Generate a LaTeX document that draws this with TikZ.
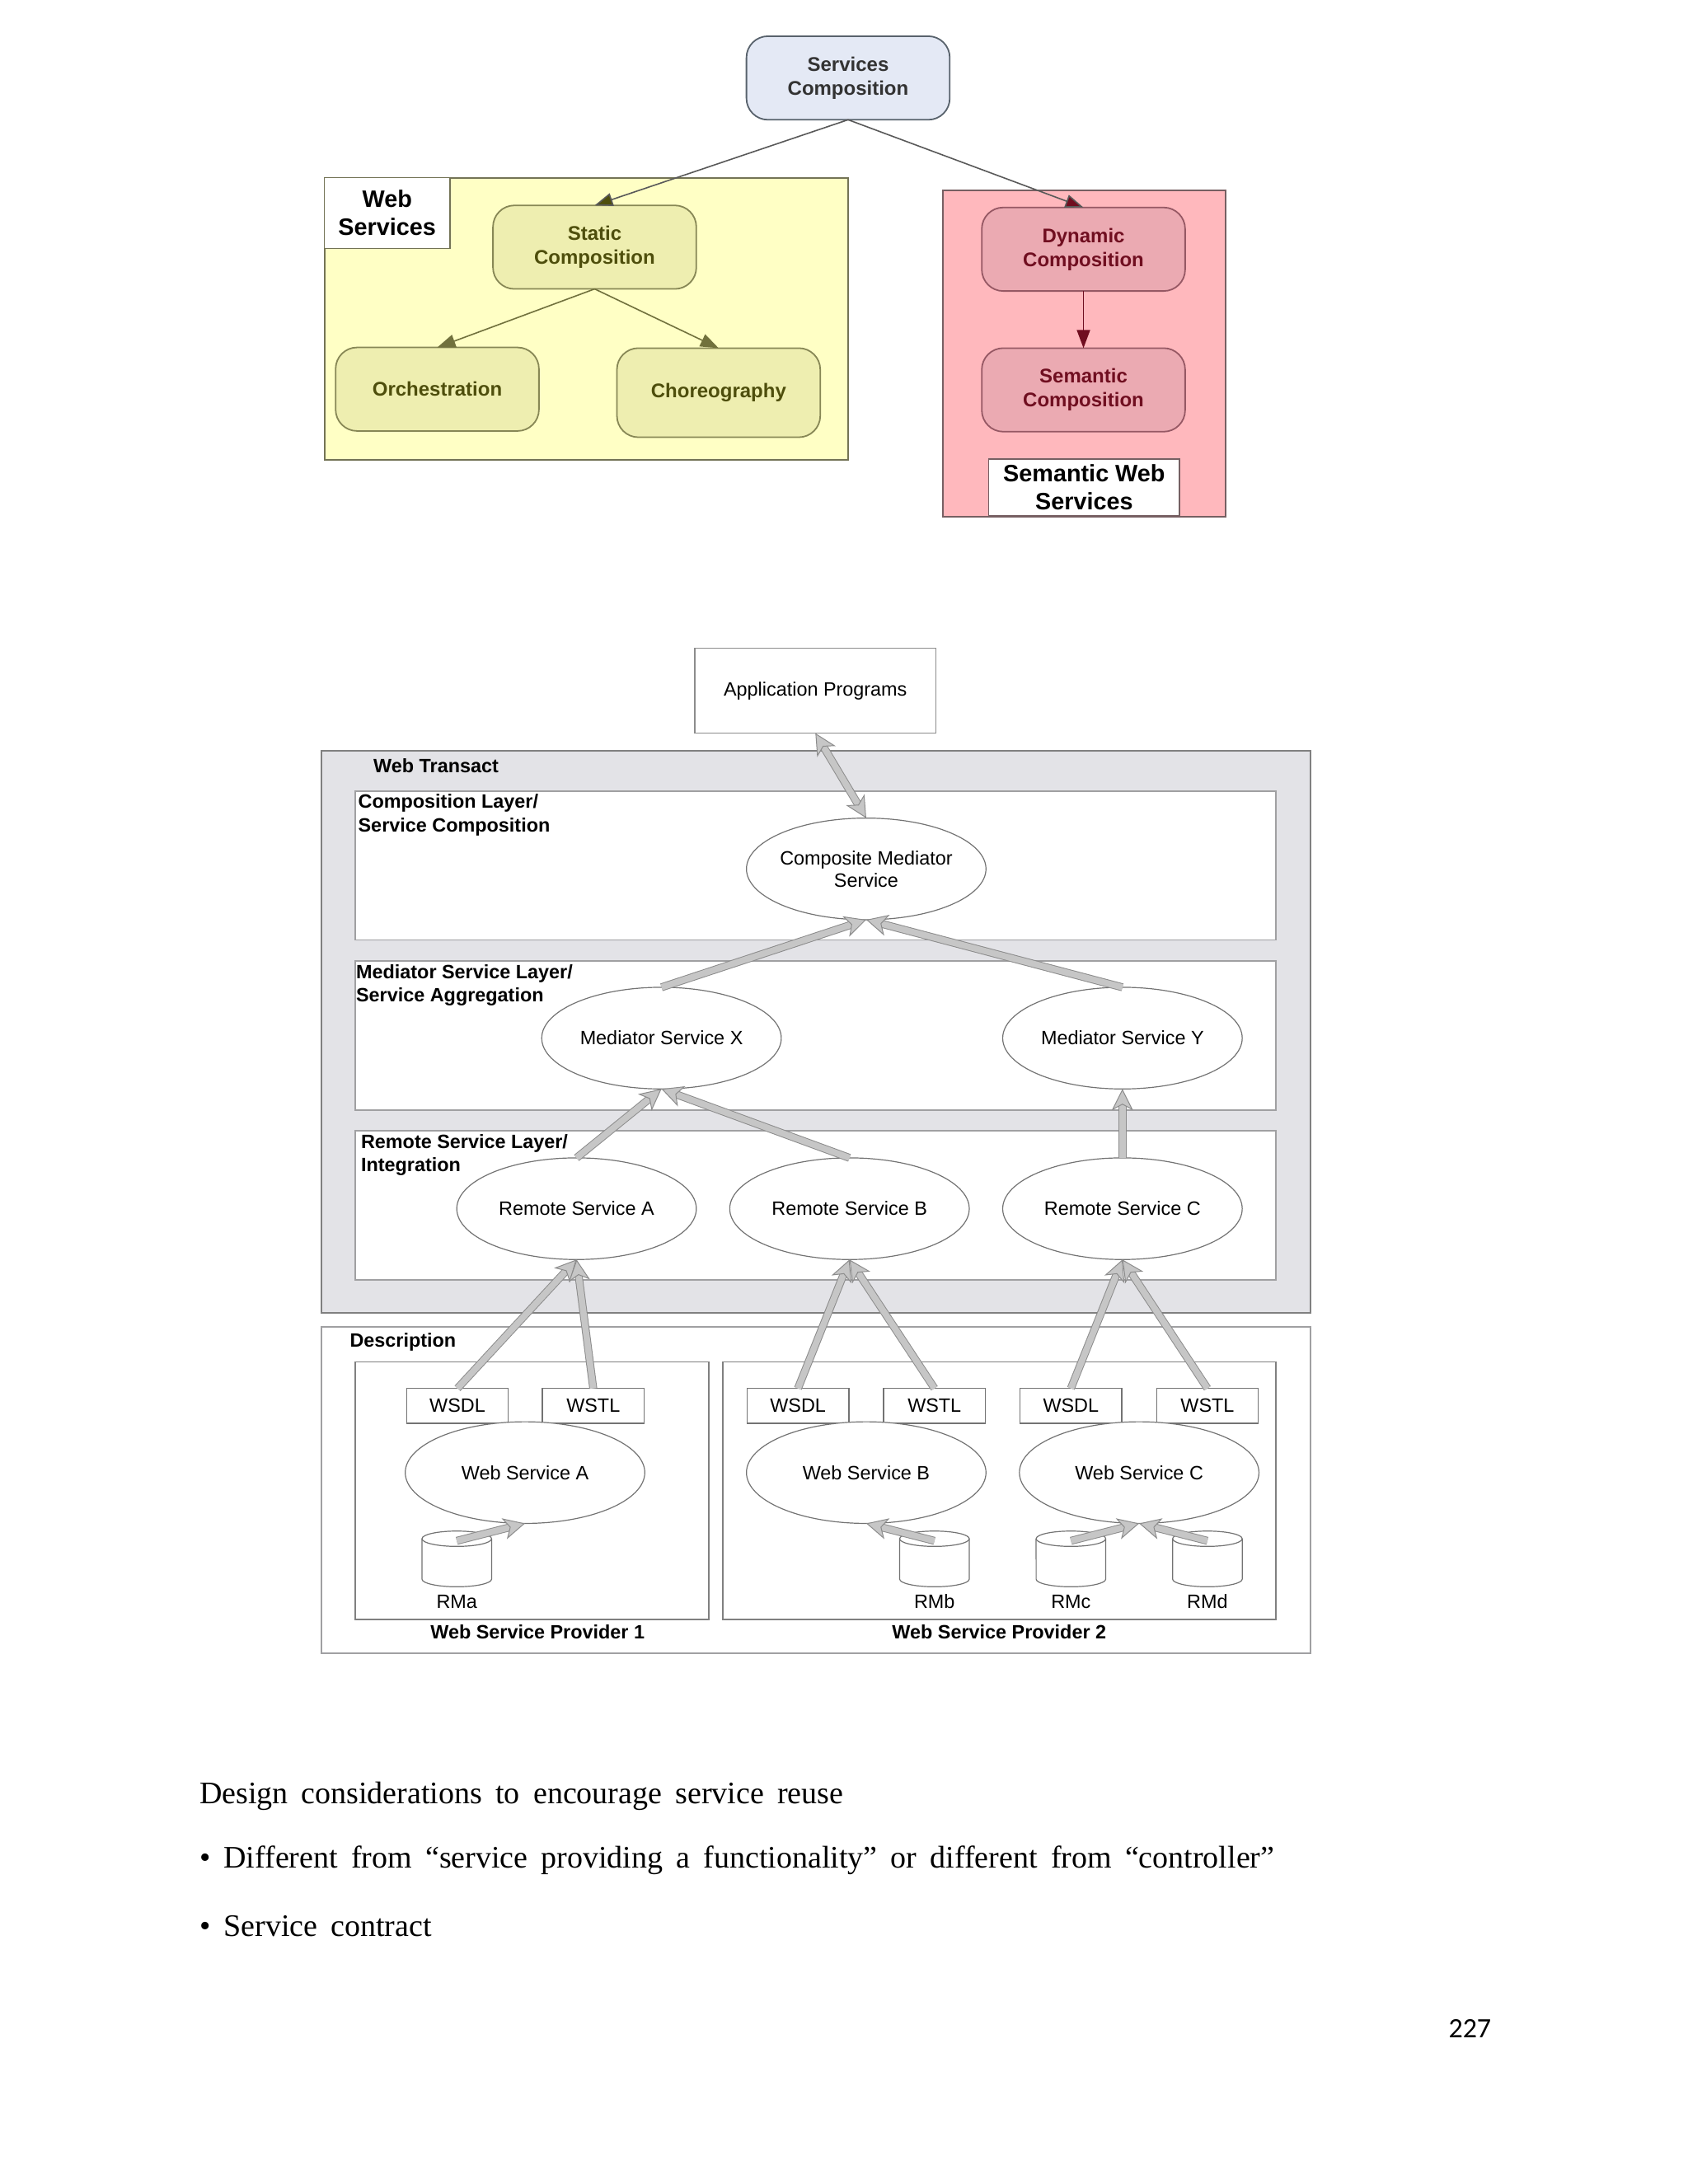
\documentclass[tikz,border=0pt]{standalone}
\usepackage{fontspec}
\setmainfont{Liberation Sans}
\newfontfamily\bodyfont[WordSpace=1.7]{Liberation Serif}
\newfontfamily\pagefont{Carlito}
\usetikzlibrary{
  arrows.meta,
  calc,
  shapes.geometric,
}
\definecolor{topfill}{RGB}{228, 233, 245}
\definecolor{topedge}{RGB}{88, 98, 108}
\definecolor{webpanel}{RGB}{255, 255, 197}
\definecolor{webfill}{RGB}{238, 238, 176}
\definecolor{webedge}{RGB}{135, 135, 85}
\definecolor{webtext}{RGB}{78, 78, 12}
\definecolor{sempanel}{RGB}{255, 184, 189}
\definecolor{semfill}{RGB}{235, 170, 178}
\definecolor{semedge}{RGB}{150, 88, 100}
\definecolor{semtext}{RGB}{112, 14, 32}
\definecolor{panelwebedge}{RGB}{115, 115, 85}
\definecolor{panelsemedge}{RGB}{118, 95, 98}
\definecolor{transact}{RGB}{227, 227, 231}
\definecolor{lineedge}{RGB}{160, 160, 162}
\definecolor{flowfill}{RGB}{198, 198, 198}
\definecolor{flowedge}{RGB}{140, 140, 140}
\tikzstyle{thinarrow} = [
  -{Triangle[length=11pt, width=8pt]},
  line width=0.8pt,
]
\tikzstyle{flow} = [
  -{Stealth[length=13pt, width=13pt, inset=3.5pt, fill=flowfill]},
  draw=flowedge,
  line width=0.5pt,
  double=flowfill,
  double distance=3.8pt,
]
\tikzstyle{flowboth} = [
  flow,
  {Stealth[length=13pt, width=13pt, inset=3.5pt, fill=flowfill]}-{Stealth[length=13pt, width=13pt, inset=3.5pt, fill=flowfill]},
]
\newcommand{\drumlines}[1]{
  \draw [draw=black!55, fill=white, line width=0.6pt]
        ($(#1.north west)+(0,5.5)$)
        arc [start angle=180, end angle=0, x radius=21.12pt, y radius=4.65pt]
        -- ($(#1.south east)+(0,-5.5)$)
        arc [start angle=0, end angle=-180, x radius=21.12pt, y radius=4.65pt]
        -- cycle;
  \draw [draw=black!55, line width=0.6pt]
        ($(#1.north west)+(0,5.5)$)
        arc [start angle=180, end angle=360, x radius=21.12pt, y radius=4.65pt];
}

\begin{document}
\begin{tikzpicture}[x=0.8449pt, y=-0.8449pt,
    wh/.style 2 args={minimum width=#1*0.8449pt, minimum height=#2*0.8449pt,
                      inner sep=0pt, outer sep=0pt},
    panel/.style={draw=#1, line width=1pt},
    round/.style={rounded corners=13pt, line width=0.9pt, align=center,
                  font=\fontsize{12}{14.4}\selectfont\bfseries, wh={146}{60}},
    tag/.style={draw, fill=white, align=center, line width=0.8pt,
                font=\fontsize{14.4}{17}\selectfont\bfseries},
    layer/.style={draw=lineedge, fill=white, line width=0.9pt},
    oval/.style={ellipse, draw=black!55, fill=white, line width=0.6pt, align=center,
                 wh={172}{73}, font=\fontsize{11.7}{13.6}\selectfont},
    leaf/.style={draw=black!55, fill=white, line width=0.7pt, wh={73}{25},
                 font=\fontsize{11.7}{14}\selectfont},
    drum/.style={wh={50}{40}},
    small/.style={font=\fontsize{11.7}{14}\selectfont},
    head/.style={anchor=west, align=left, inner sep=0pt,
                 font=\fontsize{11.7}{14.4}\selectfont\bfseries},
    body/.style={anchor=west, inner sep=0pt, font=\fontsize{19}{23}\selectfont\bodyfont}]
  \useasboundingbox (0,0) rectangle (1212,1568.4);

  \node [panel=panelwebedge, fill=webpanel, wh={376}{202}] (webpanel) at (421,229) {};
  \node [panel=panelsemedge, fill=sempanel, wh={203}{234}] (sempanel) at (778.5,254) {};
  \node [tag, draw=panelwebedge, wh={90}{51}] (webtag) at (278,153) {Web\\Services};
  \node [tag, draw=panelsemedge, wh={137}{41}] (semtag) at (778.5,350) {Semantic Web\\Services};

  \node [round, draw=topedge, fill=topfill, text=black!80] (services) at (609,56)
        {Services\\Composition};
  \node [round, draw=webedge, fill=webfill, text=webtext] (static) at (427,177.5)
        {Static\\Composition};
  \node [round, draw=webedge, fill=webfill, text=webtext] (orch) at (314,279.5) {Orchestration};
  \node [round, draw=webedge, fill=webfill, text=webtext, wh={146}{64}] (chor) at (516,282)
        {Choreography};
  \node [round, draw=semedge, fill=semfill, text=semtext] (dynamic) at (778,179)
        {Dynamic\\Composition};
  \node [round, draw=semedge, fill=semfill, text=semtext] (semantic) at (778,280)
        {Semantic\\Composition};

  \draw [thinarrow, draw=black!65, -{Triangle[length=11pt, width=8pt, fill=webtext]}]
        (services.south) -- (static.north);
  \draw [thinarrow, draw=black!65, -{Triangle[length=11pt, width=8pt, fill=semtext]}]
        (services.south) -- (dynamic.north);
  \draw [thinarrow, draw=webtext!80] (static.south) -- (orch.north);
  \draw [thinarrow, draw=webtext!80] (static.south) -- (chor.north);
  \draw [thinarrow, draw=semtext] (dynamic.south) -- (semantic.north);

  \node [draw=black!45, line width=0.8pt, wh={173}{61}, small] (app) at (585.5,496)
        {Application Programs};
  \node [draw=black!50, fill=transact, line width=0.9pt, wh={710}{404}] (webtransact) at (586,741) {};
  \node [head] (webtitle) at (268,550) {Web Transact};
  \node [layer, wh={661}{107}] (complayer) at (585.5,621.5) {};
  \node [layer, wh={661}{107}] (medlayer) at (585.5,743.5) {};
  \node [layer, wh={661}{107}] (remlayer) at (585.5,865.5) {};
  \node [head] (comptitle) at (257,585.5) {Composition Layer/\\Service Composition};
  \node [head] (medtitle) at (255.5,707.5) {Mediator Service Layer/\\Service Aggregation};
  \node [head] (remtitle) at (259,829.5) {Remote Service Layer/\\Integration};

  \node [oval, inner sep=-8pt] (composite) at (622,624) {Composite Mediator\\Service};
  \node [oval] (medx) at (475,745.5) {Mediator Service X};
  \node [oval] (medy) at (806,745.5) {Mediator Service Y};
  \node [oval] (rema) at (414,868) {Remote Service A};
  \node [oval] (remb) at (610,868) {Remote Service B};
  \node [oval] (remc) at (806,868) {Remote Service C};

  \node [draw=lineedge, fill=white, line width=0.9pt, wh={710}{234}] (description) at (586,1070) {};
  \node [head] (desctitle) at (251,964) {Description};
  \node [layer, draw=black!50, wh={254}{185}] (provone) at (382,1070.5) {};
  \node [layer, draw=black!50, wh={397}{185}] (provtwo) at (717.5,1070.5) {};
  \node [head, anchor=center] (provonetitle) at (386,1172) {Web Service Provider 1};
  \node [head, anchor=center] (provtwotitle) at (717.5,1172) {Web Service Provider 2};

  \node [leaf] (wsdla) at (328.5,1009.5) {WSDL};
  \node [leaf] (wstla) at (426,1009.5) {WSTL};
  \node [leaf] (wsdlb) at (573,1009.5) {WSDL};
  \node [leaf] (wstlb) at (671,1009.5) {WSTL};
  \node [leaf] (wsdlc) at (769,1009.5) {WSDL};
  \node [leaf] (wstlc) at (867,1009.5) {WSTL};

  \node [oval] (wsa) at (377,1057.5) {Web Service A};
  \node [oval] (wsb) at (622,1057.5) {Web Service B};
  \node [oval] (wsc) at (818,1057.5) {Web Service C};

  \node [drum] (rma) at (328,1119.5) {};
  \node [drum] (rmb) at (671,1119.5) {};
  \node [drum] (rmc) at (769,1119.5) {};
  \node [drum] (rmd) at (867,1119.5) {};
  \drumlines{rma}
  \drumlines{rmb}
  \drumlines{rmc}
  \drumlines{rmd}
  \node [small] (rmatext) at (328,1150) {RMa};
  \node [small] (rmbtext) at (671,1150) {RMb};
  \node [small] (rmctext) at (769,1150) {RMc};
  \node [small] (rmdtext) at (867,1150) {RMd};

  \draw [flowboth] (app.south) -- (composite.north);
  \draw [flow] (medx.north) -- (composite.south);
  \draw [flow] (medy.north) -- (composite.south);
  \draw [flow] (rema.north) -- (medx.south);
  \draw [flow] (remb.north) -- (medx.south);
  \draw [flow] (remc.north) -- (medy.south);
  \draw [flow] (wsdla.north) -- (rema.south);
  \draw [flow] (wstla.north) -- (rema.south);
  \draw [flow] (wsdlb.north) -- (remb.south);
  \draw [flow] (wstlb.north) -- (remb.south);
  \draw [flow] (wsdlc.north) -- (remc.south);
  \draw [flow] (wstlc.north) -- (remc.south);
  \draw [flow] ($(rma.north)+(0,7)$) -- (wsa.south);
  \draw [flow] ($(rmb.north)+(0,7)$) -- (wsb.south);
  \draw [flow] ($(rmc.north)+(0,7)$) -- (wsc.south);
  \draw [flow] ($(rmd.north)+(0,7)$) -- (wsc.south);

  \node [body] (lineone) at (143,1290) {Design considerations to encourage service reuse};
  \node [body] (linetwo) at (143,1336) {• Different from “service providing a functionality” or different from “controller”};
  \node [body] (linethree) at (143,1383) {• Service contract};
  \node [anchor=east, inner sep=0pt, font=\fontsize{17}{20}\selectfont\pagefont] (pagenum) at (1071,1457) {227};
\end{tikzpicture}
\end{document}
